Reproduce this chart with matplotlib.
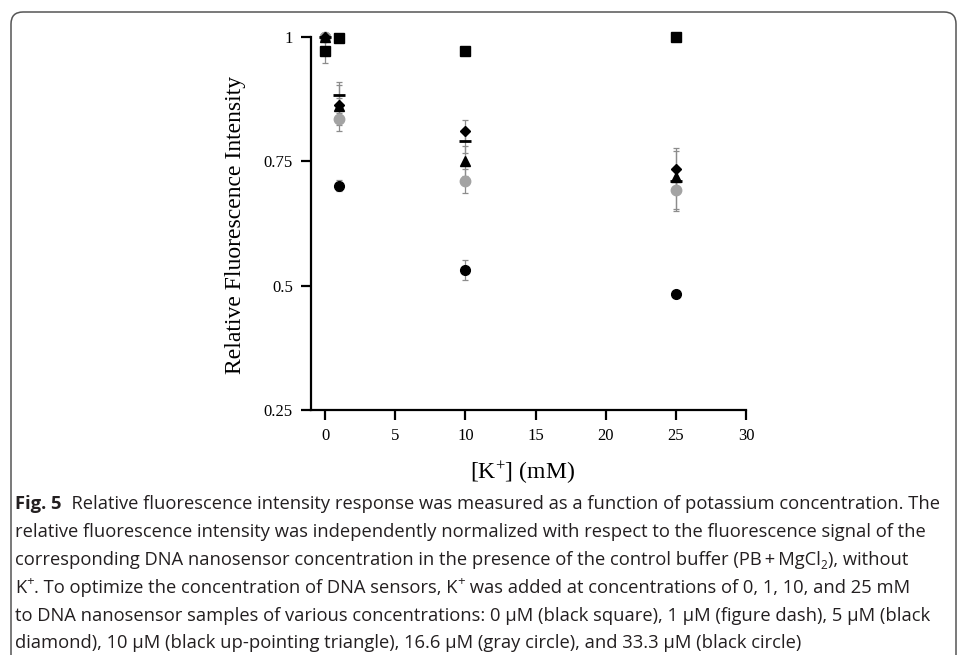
import matplotlib
matplotlib.use("Agg")
import matplotlib.pyplot as plt
from matplotlib.transforms import IdentityTransform
from matplotlib.patches import FancyBboxPatch

# ---------------- data ----------------
k_conc = [0, 1, 10, 25]
sq_vals = [0.972, 0.998, 0.972, 1.000]
sq_err = [0.025, 0.0, 0.0, 0.0]
dash_vals = [1.0, 0.882, 0.790, 0.710]
dash_err = [0.0, 0.026, 0.024, 0.060]
diam_vals = [1.0, 0.862, 0.811, 0.734]
diam_err = [0.0, 0.040, 0.021, 0.043]
tri_vals = [1.0, 0.861, 0.750, 0.719]
tri_err = [0.0, 0.015, 0.030, 0.020]
gray_vals = [1.0, 0.835, 0.710, 0.692]
gray_err = [0.0, 0.024, 0.025, 0.038]
blk_vals = [1.0, 0.701, 0.532, 0.483]
blk_err = [0.0, 0.012, 0.020, 0.005]

x_ticks = [0, 5, 10, 15, 20, 25, 30]
y_ticks = [0.25, 0.5, 0.75, 1.0]
y_tick_labels = ["0.25", "0.5", "0.75", "1"]

caption_lines = [
    [("Fig. 5", "bold"), ("  Relative fluorescence intensity response was measured as a function of potassium concentration. The", "n")],
    [("relative fluorescence intensity was independently normalized with respect to the fluorescence signal of the", "n")],
    [("corresponding DNA nanosensor concentration in the presence of the control buffer (PB\u2009+\u2009MgCl", "n"), ("2", "sub"), ("), without", "n")],
    [("K", "n"), ("+", "sup"), (". To optimize the concentration of DNA sensors, K", "n"), ("+", "sup"), (" was added at concentrations of 0, 1, 10, and 25 mM", "n")],
    [("to DNA nanosensor samples of various concentrations: 0 \u03bcM (black square), 1 \u03bcM (figure dash), 5 \u03bcM (black", "n")],
    [("diamond), 10 \u03bcM (black up-pointing triangle), 16.6 \u03bcM (gray circle), and 33.3 \u03bcM (black circle)", "n")],
]

# ---------------- figure ----------------
W, H = 958, 655
fig = plt.figure(figsize=(W / 100, H / 100), dpi=100)
plt.rcParams['mathtext.fontset'] = 'custom'
plt.rcParams['mathtext.rm'] = 'Liberation Serif'
plt.rcParams['mathtext.default'] = 'rm'

ax_l, ax_r, ax_t, ax_b = 311, 746, 36.7, 410
ax = fig.add_axes([ax_l / W, (H - ax_b) / H, (ax_r - ax_l) / W, (ax_b - ax_t) / H])

ebkw = dict(fmt='none', ecolor='#8c8c8c', elinewidth=0.9, capsize=2.2, capthick=0.9, zorder=2)
for vals, errs in [(sq_vals, sq_err), (dash_vals, dash_err), (diam_vals, diam_err),
                   (tri_vals, tri_err), (gray_vals, gray_err), (blk_vals, blk_err)]:
    ax.errorbar(k_conc, vals, yerr=errs, **ebkw)

ax.plot(k_conc, blk_vals, 'o', color='black', ms=7, mec='black', zorder=3, clip_on=False)
ax.plot(k_conc, gray_vals, 'o', color='#a3a3a3', ms=7.5, mec='#a3a3a3', zorder=3, clip_on=False)
ax.plot(k_conc, diam_vals, 'D', color='black', ms=5.5, zorder=4, clip_on=False)
ax.plot(k_conc, tri_vals, '^', color='black', ms=7, zorder=4, clip_on=False)
ax.plot(k_conc, dash_vals, '_', color='black', ms=9, mew=2, zorder=5, clip_on=False)
ax.plot(k_conc, sq_vals, 's', color='black', ms=6.8, zorder=5, clip_on=False)

ax.set_xlim(-1, 30)
ax.set_ylim(0.25, 1.0)
ax.set_xticks(x_ticks)
ax.set_xticklabels([str(t) for t in x_ticks])
ax.set_yticks(y_ticks)
ax.set_yticklabels(y_tick_labels)
for s in ['top', 'right']:
    ax.spines[s].set_visible(False)
for s in ['left', 'bottom']:
    ax.spines[s].set_linewidth(1.6)
ax.tick_params(direction='out', length=7, width=1.6, pad=6, labelsize=12)
for lab in ax.get_xticklabels() + ax.get_yticklabels():
    lab.set_family('Liberation Serif')
ax.patch.set_alpha(0)

# axis labels (pixel positions)
idt = IdentityTransform()
fig.text(235, H - 225, "Relative Fluorescence Intensity", rotation=90, ha='center', va='center',
         family='Liberation Serif', fontsize=17, transform=idt)
fig.text(522, H - 473, r"[K$^{+}$] (mM)", ha='center', va='center',
         family='Liberation Serif', fontsize=17, transform=idt)

# border
box = FancyBboxPatch((11, -20), 945, H - 12 + 20, boxstyle="round,pad=0,rounding_size=12",
                     transform=idt, fill=False, edgecolor='#555555', linewidth=1.1)
fig.patches.append(box)

# caption
renderer = fig.canvas.get_renderer()
cap_font = 'Open Sans'

def text_width(s, size, weight='normal'):
    t = fig.text(0, 0, s + '|', fontsize=size, family=cap_font, weight=weight, transform=idt)
    w1 = t.get_window_extent(renderer).width
    t.remove()
    t = fig.text(0, 0, '|', fontsize=size, family=cap_font, weight=weight, transform=idt)
    w2 = t.get_window_extent(renderer).width
    t.remove()
    return w1 - w2

ref_w = text_width(caption_lines[1][0][0], 10)
cap_size = 10 * (924 - 15) / ref_w

x0 = 15
baseline0 = 509
step = 27.9
for i, line in enumerate(caption_lines):
    x = x0
    yb = H - (baseline0 + i * step)
    for s, style in line:
        size = cap_size
        weight = 'normal'
        y = yb
        if style == 'bold':
            weight = 'bold'
        elif style == 'sub':
            size = cap_size * 0.65
            y = yb - cap_size * 0.35
        elif style == 'sup':
            size = cap_size * 0.72
            y = yb + cap_size * 0.55
        fig.text(x, y, s, fontsize=size, family=cap_font, weight=weight, ha='left', va='baseline',
                 transform=idt, color='#231f20')
        x += text_width(s, size, weight)

fig.savefig('out.png', dpi=100)
